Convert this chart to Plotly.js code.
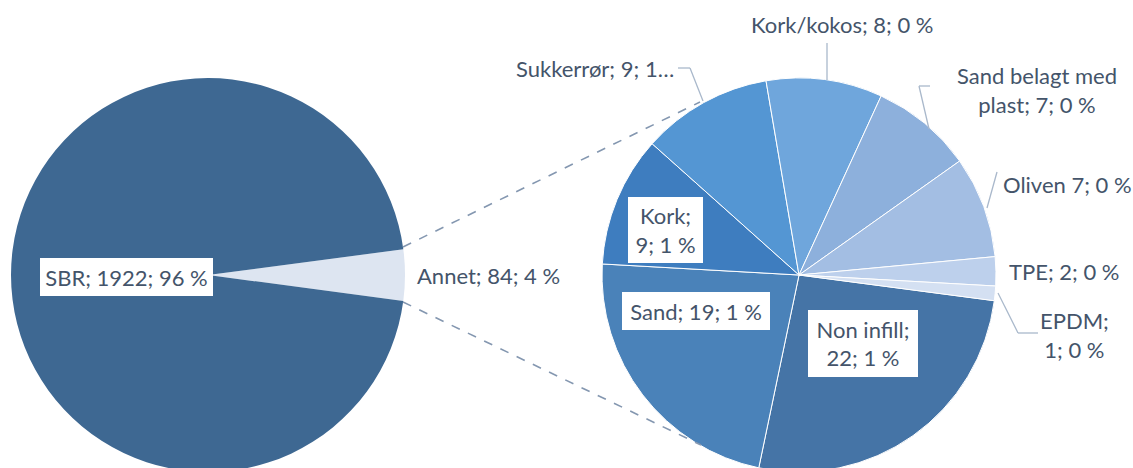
<!DOCTYPE html>
<html>
<head>
<meta charset="utf-8">
<script src="https://cdn.plot.ly/plotly-3.0.1.min.js"></script>
<style>
html,body{margin:0;padding:0;background:#fff;}
#wrap{width:1133px;height:468px;overflow:hidden;}
</style>
</head>
<body>
<div id="wrap"><div id="chart"></div></div>
<script>
// ---- data ----
const mainCategories = ["Annet", "SBR"];
const mainValues = [84, 1922];
const mainLabels = ["Annet; 84; 4 %", "SBR; 1922; 96 %"];

const subCategories = ["Non infill", "Sand", "Kork", "Sukkerrør", "Kork/kokos", "Sand belagt med plast", "Oliven", "TPE", "EPDM"];
const subValues = [22, 19, 9, 9, 8, 7, 7, 2, 1];
const subLabels = ["Non infill;<br>22; 1 %", "Sand; 19; 1 %", "Kork;<br>9; 1 %", "Sukkerrør; 9; 1…", "Kork/kokos; 8; 0 %", "Sand belagt med<br>plast; 7; 0 %", "Oliven 7; 0 %", "TPE; 2; 0 %", "EPDM;<br>1; 0 %"];

const mainColors = ["#dde5f1", "#3e6892"];
const subColors = ["#4574a6", "#4a82b9", "#3e7dbf", "#5496d3", "#6fa6dc", "#8db0dc", "#a3bee3", "#bdd0ec", "#d4e0f2"];

// ---- layout helpers ----
const W = 1133, H = 490;
const X = p => p / W;
const Y = p => 1 - p / H;
const FONT = "Lato, 'Open Sans', sans-serif";
const TXT = "#44546a";
const FS = 22;

const traces = [
  {
    type: "pie", labels: mainCategories, values: mainValues, sort: false,
    direction: "clockwise", rotation: 82.5, textinfo: "none", hoverinfo: "none",
    marker: {colors: mainColors, line: {color: "#ffffff", width: 0}},
    domain: {x: [X(11), X(405)], y: [Y(472), Y(78)]}
  },
  {
    type: "pie", labels: subCategories, values: subValues, sort: false,
    direction: "clockwise", rotation: 97.5, textinfo: "none", hoverinfo: "none",
    marker: {colors: subColors, line: {color: "#ffffff", width: 1}},
    domain: {x: [X(602), X(996)], y: [Y(472), Y(78)]}
  }
];

function ann(text, cx, cy, opts) {
  return Object.assign({
    xref: "paper", yref: "paper", x: X(cx), y: Y(cy), text: text,
    showarrow: false, xanchor: "center", yanchor: "middle",
    font: {family: FONT, size: FS, color: TXT}, borderpad: 0, borderwidth: 0
  }, opts || {});
}
const boxed = (w, h) => ({bgcolor: "#ffffff", width: w, height: h});

const annotations = [
  ann(mainLabels[1], 126.5, 277, boxed(173, 38)),
  ann(mainLabels[0], 488, 275),
  ann(subLabels[0], 863, 343.5, boxed(110, 67)),
  ann(subLabels[1], 696, 311, boxed(148, 38)),
  ann(subLabels[2], 665.5, 230, boxed(75, 66)),
  ann(subLabels[3], 674, 68, {xanchor: "right"}),
  ann(subLabels[4], 842, 25),
  ann(subLabels[5], 1037, 90),
  ann(subLabels[6], 1067, 184),
  ann(subLabels[7], 1064, 271),
  ann(subLabels[8], 1074, 335)
];

function seg(x0, y0, x1, y1, line) {
  return {type: "line", xref: "paper", yref: "paper", x0: X(x0), y0: Y(y0), x1: X(x1), y1: Y(y1), line: line};
}
const lead = {color: "#a9b8cb", width: 1.3};
const dash = {color: "#8497b0", width: 1.6, dash: "dash"};
const shapes = [
  seg(403, 247, 700, 102, dash),
  seg(403, 302, 701, 445, dash),
  // Sukkerrør leader
  seg(678, 68, 690, 68, lead), seg(690, 68, 703, 101, lead),
  // Kork/kokos leader
  seg(827, 43, 827, 80, lead),
  // Sand belagt leader
  seg(930, 86, 919, 86, lead), seg(919, 86, 929, 129, lead),
  // Oliven leader
  seg(997, 172, 987, 208, lead),
  // EPDM leader
  seg(998, 293, 1018, 333, lead), seg(1018, 333, 1038, 333, lead)
];

const layout = {
  width: W, height: H,
  margin: {l: 0, r: 0, t: 0, b: 0},
  paper_bgcolor: "#ffffff", plot_bgcolor: "#ffffff",
  showlegend: false,
  annotations: annotations,
  shapes: shapes,
  font: {family: FONT}
};

Plotly.newPlot("chart", traces, layout, {staticPlot: true, displayModeBar: false});
</script>
</body>
</html>
